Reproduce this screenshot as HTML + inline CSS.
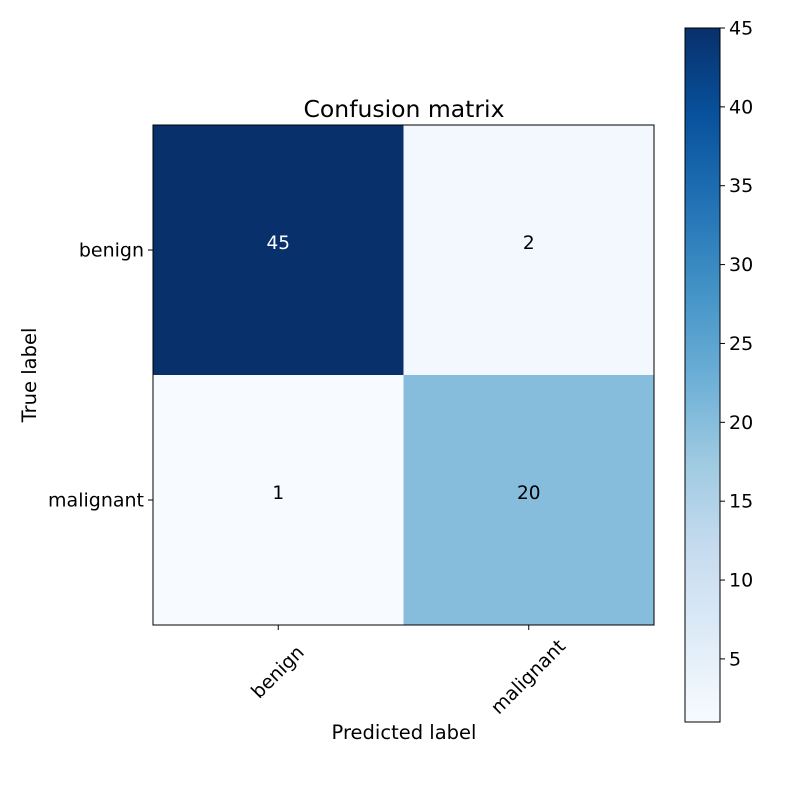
<!DOCTYPE html>
<html><head><meta charset="utf-8"><style>
html,body{margin:0;padding:0;background:#fff;}
svg text{font-family:"DejaVu Sans","Liberation Sans",sans-serif;}
</style></head><body>
<svg id="chart" width="800" height="800" xmlns="http://www.w3.org/2000/svg">
<defs>
<linearGradient id="blues" x1="0" y1="1" x2="0" y2="0">
<stop offset="0" stop-color="#f7fbff"/><stop offset="0.125" stop-color="#deebf7"/>
<stop offset="0.25" stop-color="#c6dbef"/><stop offset="0.375" stop-color="#9ecae1"/>
<stop offset="0.5" stop-color="#6baed6"/><stop offset="0.625" stop-color="#4292c6"/>
<stop offset="0.75" stop-color="#2171b5"/><stop offset="0.875" stop-color="#08519c"/>
<stop offset="1" stop-color="#08306b"/>
</linearGradient>
</defs>
<text x="404" y="117" font-size="23.5" text-anchor="middle">Confusion matrix</text>
<g id="cells"></g>
<rect x="153" y="125" width="501" height="500" fill="none" stroke="#000" stroke-width="1"/>
<g id="axes"></g>
<text x="404" y="739" font-size="19.5" text-anchor="middle">Predicted label</text>
<text transform="translate(36,375) rotate(-90)" font-size="19.5" text-anchor="middle">True label</text>
<rect x="685" y="28" width="35" height="694" fill="url(#blues)" stroke="#000" stroke-width="1"/>
<g id="cbar"></g>
</svg>
<script>
const classes = ["benign", "malignant"];
const matrixRow0 = [45, 2];
const matrixRow1 = [1, 20];
const colorbarTicks = [5, 10, 15, 20, 25, 30, 35, 40, 45];
const vmin = 1, vmax = 45;

const NS = "http://www.w3.org/2000/svg";
const X0 = 153, Y0 = 125, W = 501, H = 500;
const stops = ["#f7fbff","#deebf7","#c6dbef","#9ecae1","#6baed6","#4292c6","#2171b5","#08519c","#08306b"];
function hex(c){return [1,3,5].map(i=>parseInt(c.substr(i,2),16));}
function color(v){
  let t = (v - vmin) / (vmax - vmin); t = Math.max(0, Math.min(1, t));
  const p = t * 8, i = Math.min(7, Math.floor(p)), f = p - i;
  const a = hex(stops[i]), b = hex(stops[i+1]);
  return "rgb(" + a.map((x,k)=>Math.round(x + (b[k]-x)*f)).join(",") + ")";
}
function mk(tag, attrs, parent, txt){
  const e = document.createElementNS(NS, tag);
  for (const k in attrs) e.setAttribute(k, attrs[k]);
  if (txt !== undefined) e.textContent = txt;
  parent.appendChild(e); return e;
}
const n = classes.length, cw = W / n, ch = H / n;
const xc = i => X0 + cw * (i + 0.5), yc = j => Y0 + ch * (j + 0.5);
const matrix = [matrixRow0, matrixRow1];
const cells = document.getElementById("cells");
const thresh = Math.max(...matrix.flat()) / 2;
matrix.forEach((row, r) => row.forEach((v, c) => {
  const rc = mk("rect", {x: X0 + c*cw, y: Y0 + r*ch, width: cw + 0.5, height: ch + 0.5, fill: color(v)}, cells);
  
  
  const t = mk("text", {x: xc(c), y: yc(r) - 6, "font-size": 18.5, "text-anchor": "middle", "dominant-baseline": "middle", fill: v > thresh ? "#fff" : "#000"}, cells, String(v));
  
  
}));
const axes = document.getElementById("axes");
classes.forEach((name, i) => {
  mk("line", {x1: xc(i), x2: xc(i), y1: Y0 + H, y2: Y0 + H + 5, stroke: "#000"}, axes);
  mk("line", {x1: X0 - 5, x2: X0, y1: yc(i), y2: yc(i), stroke: "#000"}, axes);
  const cy = Y0 + H + 38 + name.length * 1.6;
  const xt = mk("text", {transform: "translate(" + xc(i) + "," + cy + ") rotate(-45)", "font-size": 19, "text-anchor": "middle", "dominant-baseline": "middle"}, axes, name);
  
  
  const yt = mk("text", {x: X0 - 9, y: yc(i) + 1, "font-size": 19, "text-anchor": "end", "dominant-baseline": "middle"}, axes, name);
  
  
});
const cb = document.getElementById("cbar");
const CB_TOP = 28, CB_BOT = 722;
const cy2 = v => CB_BOT - (v - vmin) / (vmax - vmin) * (CB_BOT - CB_TOP);
colorbarTicks.forEach(v => {
  mk("line", {x1: 720, x2: 725, y1: cy2(v), y2: cy2(v), stroke: "#000"}, cb);
  const t = mk("text", {x: 729, y: cy2(v) + 1, "font-size": 19, "dominant-baseline": "middle"}, cb, String(v));
  
  
});
</script>
</body></html>
